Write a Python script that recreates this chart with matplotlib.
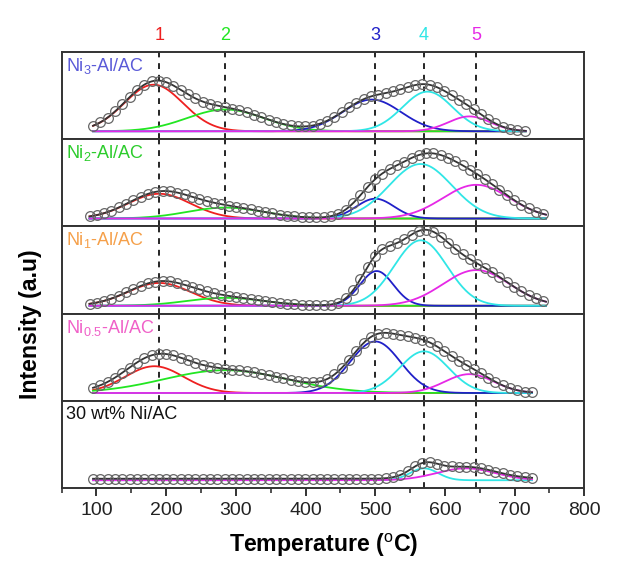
import numpy as np
import matplotlib.pyplot as plt

plt.rcParams['font.family'] = ['Liberation Sans', 'DejaVu Sans']
plt.rcParams['mathtext.fontset'] = 'custom'
plt.rcParams['mathtext.rm'] = 'Liberation Sans'
plt.rcParams['mathtext.it'] = 'Liberation Sans'
plt.rcParams['mathtext.bf'] = 'Liberation Sans:bold'

# samples, top to bottom
SAMPLES = ['Ni$_3$-Al/AC', 'Ni$_2$-Al/AC', 'Ni$_1$-Al/AC', 'Ni$_{0.5}$-Al/AC', '30 wt% Ni/AC']
SAMPLE_COLORS = ['#5a5ad8', '#2ccc2c', '#f5a04a', '#f060c8', '#111111']
T_START = [95, 90, 90, 95, 95]
T_END = [716, 745, 745, 725, 725]
BASE = [0.0, 0.0, 0.0, 0.0, 1.5]

# fitted peaks 1..5: centre (C), height (a.u.), width (sigma, C); None = not fitted
PEAK_NAMES = ['1', '2', '3', '4', '5']
PEAK_COLORS = ['#ee2020', '#22e622', '#2020c8', '#30e6e6', '#e628e6']
PEAK_POS = [190, 285, 500, 570, 645]
CENTRES = [
    [182, 285, 495, 575, 635],
    [190, 285, 500, 565, 645],
    [190, 285, 502, 565, 645],
    [183, 285, 500, 570, 635],
    [None, None, None, 570, 630],
]
HEIGHTS = [
    [47, 22, 32, 40, 15],
    [25, 11, 20, 55, 34],
    [23, 8, 35, 66, 36],
    [27, 23, 52, 42, 19],
    [None, None, None, 12, 12],
]
WIDTHS = [
    [42, 55, 42, 36, 30],
    [45, 55, 27, 45, 48],
    [45, 55, 24, 38, 48],
    [42, 88, 36, 35, 35],
    [None, None, None, 20, 42],
]
# which dashed guides are drawn in each panel
GUIDES = [[0, 1, 2, 3, 4]] * 4 + [[3, 4]]


def gauss(t, c, h, w):
    return h * np.exp(-(t - c) ** 2 / (2.0 * w ** 2))


fig = plt.figure(figsize=(6.29, 5.65), dpi=100)
axes = fig.subplots(5, 1, sharex=True, gridspec_kw={'hspace': 0})
fig.subplots_adjust(left=0.098, right=0.929, top=0.908, bottom=0.136)

for i, ax in enumerate(axes):
    t = np.linspace(T_START[i], T_END[i], 400)
    total = np.zeros_like(t) + BASE[i]
    for k in range(5):
        if CENTRES[i][k] is None:
            continue
        y = gauss(t, CENTRES[i][k], HEIGHTS[i][k], WIDTHS[i][k])
        total += y
        ax.plot(t, y, color=PEAK_COLORS[k], lw=1.3, zorder=2)

    # measured points sit on the envelope
    tp = np.arange(T_START[i], T_END[i] + 1, 10.5)
    yp = np.interp(tp, t, total)
    ax.plot(t, total, color='#333333', lw=1.3, zorder=3)
    ax.plot(tp, yp, 'o', mfc='none', mec='#666666', ms=7, mew=0.9, zorder=4)

    for k in GUIDES[i]:
        ax.axvline(PEAK_POS[k], color='black', ls=(0, (3.5, 3.5)), lw=1.2, zorder=1)

    ax.text(0.008, 0.84, SAMPLES[i], transform=ax.transAxes, color=SAMPLE_COLORS[i],
            fontsize=13, ha='left', va='center')

    ax.set_ylim(-8, 80)
    ax.set_yticks([])
    for s in ax.spines.values():
        s.set_linewidth(1.4)
        s.set_color('#333333')
    ax.tick_params(axis='x', which='both', bottom=False)

# peak numbers above the top panel
for k in range(5):
    axes[0].annotate(PEAK_NAMES[k], xy=(PEAK_POS[k], 1.19), xycoords=('data', 'axes fraction'),
                     color=PEAK_COLORS[k], fontsize=13, ha='center', va='center')

ax = axes[-1]
ax.set_xlim(50, 800)
ax.set_xticks(range(100, 801, 100))
ax.set_xticks(range(50, 801, 100), minor=True)
ax.tick_params(axis='x', which='major', bottom=True, direction='out', length=6, width=1.3,
               labelsize=14, colors='#222222', pad=4)
ax.tick_params(axis='x', which='minor', bottom=True, direction='out', length=3.5, width=1.1,
               colors='#222222')

fig.text(0.515, 0.034, 'Temperature ($^{\\rm o}$C)', fontsize=16.7, fontweight='bold',
         ha='center', va='center')
fig.text(0.048, 0.427, 'Intensity (a.u)', rotation=90, fontsize=16.7, fontweight='bold',
         ha='center', va='center')

fig.savefig('out.png', dpi=100)
